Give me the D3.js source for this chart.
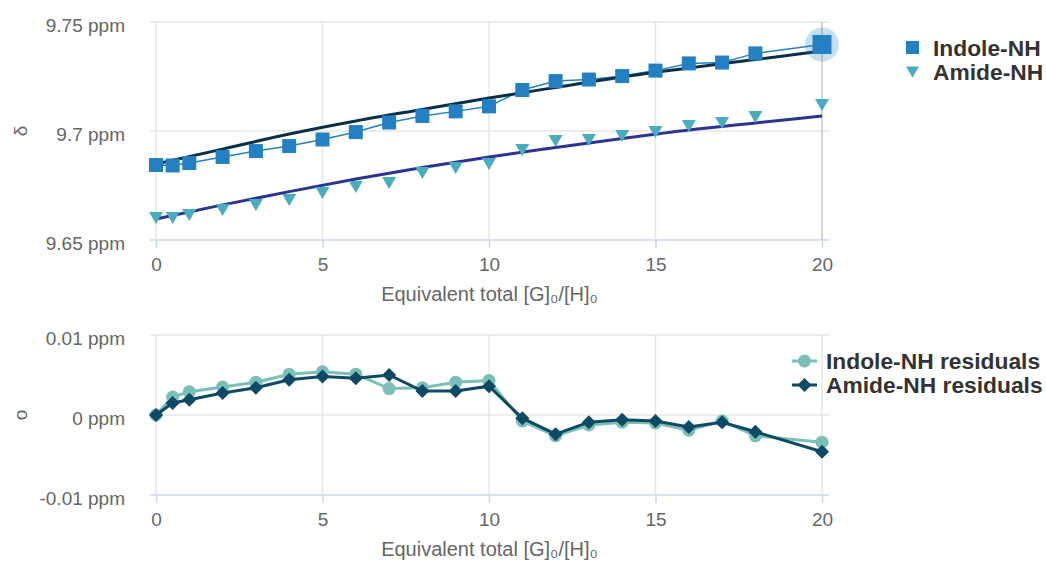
<!DOCTYPE html>
<html>
<head>
<meta charset="utf-8">
<script src="https://cdn.jsdelivr.net/npm/d3@7"></script>
<style>
  body { margin: 0; background: #fff; }
  text { font-family: "Liberation Sans", Arial, sans-serif; }
</style>
</head>
<body>
<svg id="chart" width="1046" height="562"></svg>
<script>
// equivalents of guest added
const equiv = [0, 0.5, 1, 2, 3, 4, 5, 6, 7, 8, 9, 10, 11, 12, 13, 14, 15, 16, 17, 18, 20];

// observed shifts (ppm)
const indole = [9.6844, 9.6842, 9.6853, 9.6881, 9.6908, 9.6931, 9.6961, 9.6995, 9.7039, 9.7069,
  9.7090, 9.7113, 9.7188, 9.7229, 9.7236, 9.7252, 9.7277, 9.7310, 9.7314, 9.7356, 9.7397];
const amide = [9.6601, 9.6601, 9.6615, 9.6638, 9.6661, 9.6683, 9.6716, 9.6743, 9.6761, 9.6807,
  9.6830, 9.6849, 9.6913, 9.6954, 9.6959, 9.6977, 9.6995, 9.7023, 9.7037, 9.7064, 9.7119];

// fitted curves (ppm)
const fitX = [0, 2, 4, 6, 8, 10, 12, 14, 16, 18, 20];
const indoleFit = [9.6849, 9.6917, 9.6986, 9.7046, 9.7099, 9.7151, 9.7200, 9.7248, 9.7289, 9.7328, 9.7367];
const amideFit = [9.6596, 9.6661, 9.6722, 9.6780, 9.6833, 9.6881, 9.6924, 9.6966, 9.7005, 9.7037, 9.7069];

// residuals (ppm)
const indoleRes = [0, 0.00225, 0.0029, 0.0035, 0.0041, 0.0051, 0.0054, 0.0051, 0.0033, 0.0034, 0.0041,
  0.0043, -0.00075, -0.0026, -0.00125, -0.0009, -0.001, -0.0019, -0.00075, -0.0026, -0.0034];
const amideRes = [0, 0.0015, 0.0019, 0.00275, 0.0034, 0.0044, 0.0048, 0.0046, 0.005, 0.003, 0.003,
  0.0036, -0.0004, -0.0024, -0.0009, -0.0006, -0.00075, -0.0015, -0.0009, -0.0021, -0.0046];

const xTicks = [0, 5, 10, 15, 20];
const shiftTicks = [9.65, 9.7, 9.75];
const resTicks = [-0.01, 0, 0.01];

const svg = d3.select("#chart");
const left = 150, right = 829;

const x = d3.scaleLinear().domain([0, 20]).range([156, 822]);
const yTop = d3.scaleLinear().domain([9.65, 9.75]).range([240, 22]);
const yBot = d3.scaleLinear().domain([-0.01, 0.01]).range([495, 335]);

const cSquare = "#2380c3";
const cTri = "#4aacbf";
const cIndFit = "#0b2f47";
const cAmFit = "#2b3590";
const cResInd = "#7abfb8";
const cResAm = "#0e4a66";

function panel(y, ticks, fmt, label, top, bottom) {
  const g = svg.append("g");
  // horizontal gridlines
  g.selectAll(".hg").data(ticks).enter().append("line")
    .attr("x1", left).attr("x2", right)
    .attr("y1", d => y(d)).attr("y2", d => y(d))
    .attr("stroke", (d, i) => i === 0 ? "#ccd6eb" : "#e6e6e6").attr("stroke-width", 1.5);
  // vertical gridlines
  g.selectAll(".vg").data(xTicks).enter().append("line")
    .attr("x1", d => x(d)).attr("x2", d => x(d))
    .attr("y1", top).attr("y2", bottom)
    .attr("stroke", "#e3e6ea").attr("stroke-width", 1.5);

  const xAxis = d3.axisBottom(x).tickValues(xTicks).tickSize(8).tickPadding(10).tickFormat(d3.format("d"));
  const ax = g.append("g").attr("transform", `translate(0,${bottom})`).call(xAxis);
  ax.select(".domain").remove();
  ax.selectAll(".tick line").attr("stroke", "#ccd6eb").attr("stroke-width", 1.5);
  ax.selectAll(".tick text").attr("fill", "#666").style("font-size", "19px")
    .style("font-family", "'Liberation Sans', Arial, sans-serif");

  const yAxis = d3.axisLeft(y).tickValues(ticks).tickSize(0).tickPadding(25).tickFormat(fmt);
  const ay = g.append("g").attr("transform", `translate(${left},0)`).call(yAxis);
  ay.select(".domain").remove();
  ay.selectAll(".tick text").attr("fill", "#666").attr("dy", "0.5em").style("font-size", "19px")
    .style("font-family", "'Liberation Sans', Arial, sans-serif");

  // axis titles
  const t = g.append("text").attr("x", (left + right) / 2).attr("y", bottom + 61)
    .attr("text-anchor", "middle").attr("fill", "#666").style("font-size", "20px");
  t.append("tspan").text("Equivalent total [G]");
  t.append("tspan").text("\u2080");
  t.append("tspan").text("/[H]");
  t.append("tspan").text("\u2080");

  g.append("text").attr("transform", `translate(20,${(top + bottom) / 2}) rotate(-90)`)
    .attr("dy", "0.35em").attr("text-anchor", "middle").attr("fill", "#666")
    .style("font-size", "19px").text(label);
}

const fmtShift = d => (d === 9.7 ? "9.7" : d3.format(".2f")(d)) + " ppm";
const fmtRes = d => (d === 0 ? "0" : d3.format(".2f")(d).replace("\u2212", "-")) + " ppm";

panel(yTop, shiftTicks, fmtShift, "\u03b4", 22, 240);
panel(yBot, resTicks, fmtRes, "\u03bf", 335, 495);

// crosshair on hovered point
svg.append("line").attr("x1", x(20)).attr("x2", x(20)).attr("y1", 22).attr("y2", 240)
  .attr("stroke", "#cccccc").attr("stroke-width", 1.5);

// ---- top panel marks ----
const indData = equiv.map((e, i) => ({ x: e, y: indole[i] }));
const amData = equiv.map((e, i) => ({ x: e, y: amide[i] }));

const lineTop = d3.line().x(d => x(d.x)).y(d => yTop(d.y));
const fitLine = d3.line().x(d => x(d.x)).y(d => yTop(d.y)).curve(d3.curveMonotoneX);

svg.append("path").datum(indData).attr("d", lineTop)
  .attr("fill", "none").attr("stroke", cSquare).attr("stroke-width", 1.5);

svg.append("path").datum(fitX.map((e, i) => ({ x: e, y: indoleFit[i] }))).attr("d", fitLine)
  .attr("fill", "none").attr("stroke", cIndFit).attr("stroke-width", 3);
svg.append("path").datum(fitX.map((e, i) => ({ x: e, y: amideFit[i] }))).attr("d", fitLine)
  .attr("fill", "none").attr("stroke", cAmFit).attr("stroke-width", 3);

const triPath = "M-7,-6L7,-6L0,6Z";
svg.selectAll(".tri").data(amData).enter().append("path")
  .attr("d", triPath).attr("fill", cTri)
  .attr("transform", d => `translate(${x(d.x)},${yTop(d.y)})`);

svg.selectAll(".sq").data(indData.slice(0, -1)).enter().append("rect")
  .attr("x", d => x(d.x) - 7).attr("y", d => yTop(d.y) - 7)
  .attr("width", 14).attr("height", 14).attr("fill", cSquare);

// hovered last point
const last = indData[indData.length - 1];
svg.append("circle").attr("cx", x(last.x)).attr("cy", yTop(last.y)).attr("r", 17)
  .attr("fill", cSquare).attr("fill-opacity", 0.25);
svg.append("rect").attr("x", x(last.x) - 9.5).attr("y", yTop(last.y) - 9.5)
  .attr("width", 19).attr("height", 19).attr("fill", cSquare);

// ---- bottom panel marks ----
const lineBot = d3.line().x(d => x(d.x)).y(d => yBot(d.y));
const resInd = equiv.map((e, i) => ({ x: e, y: indoleRes[i] }));
const resAm = equiv.map((e, i) => ({ x: e, y: amideRes[i] }));

svg.append("path").datum(resInd).attr("d", lineBot)
  .attr("fill", "none").attr("stroke", cResInd).attr("stroke-width", 3);
svg.selectAll(".rc").data(resInd).enter().append("circle")
  .attr("cx", d => x(d.x)).attr("cy", d => yBot(d.y)).attr("r", 6.5).attr("fill", cResInd);

svg.append("path").datum(resAm).attr("d", lineBot)
  .attr("fill", "none").attr("stroke", cResAm).attr("stroke-width", 3);
const diaPath = "M0,-7L7,0L0,7L-7,0Z";
svg.selectAll(".rd").data(resAm).enter().append("path")
  .attr("d", diaPath).attr("fill", cResAm)
  .attr("transform", d => `translate(${x(d.x)},${yBot(d.y)})`);

// ---- legends ----
const lg = svg.append("g");
lg.append("rect").attr("x", 906).attr("y", 41).attr("width", 13).attr("height", 13).attr("fill", cSquare);
lg.append("path").attr("d", "M-6.5,-5.5L6.5,-5.5L0,5.5Z").attr("fill", cTri)
  .attr("transform", "translate(912.5,72)");
lg.append("text").attr("x", 933).attr("y", 56).text("Indole-NH");
lg.append("text").attr("x", 933).attr("y", 80).text("Amide-NH");

lg.append("line").attr("x1", 792).attr("x2", 817).attr("y1", 361).attr("y2", 361)
  .attr("stroke", cResInd).attr("stroke-width", 3);
lg.append("circle").attr("cx", 804.5).attr("cy", 361).attr("r", 6.5).attr("fill", cResInd);
lg.append("line").attr("x1", 792).attr("x2", 817).attr("y1", 385).attr("y2", 385)
  .attr("stroke", cResAm).attr("stroke-width", 3);
lg.append("path").attr("d", diaPath).attr("fill", cResAm).attr("transform", "translate(804.5,385)");
lg.append("text").attr("x", 826).attr("y", 369).text("Indole-NH residuals");
lg.append("text").attr("x", 826).attr("y", 393).text("Amide-NH residuals");
lg.selectAll("text").attr("fill", "#333").style("font-size", "22.8px").style("font-weight", "bold");
</script>
</body>
</html>
